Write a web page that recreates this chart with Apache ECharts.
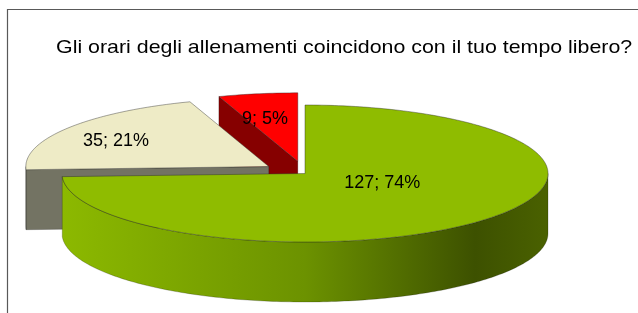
<!DOCTYPE html>
<html>
<head>
<meta charset="utf-8">
<script src="https://cdn.jsdelivr.net/npm/echarts@6/dist/echarts.min.js"></script>
<style>
  html, body { margin: 0; padding: 0; background: #fff; }
  #main { width: 638px; height: 313px; }
</style>
</head>
<body>
<div id="main"></div>
<script>
// dati del grafico
const categories = ['Sì', 'No', 'Non so'];
const values = [127, 35, 9];
const percentLabels = ['74%', '21%', '5%'];
const chartTitle = 'Gli orari degli allenamenti coincidono con il tuo tempo libero?';

// geometria della torta 3D (ellisse + spessore)
const cx = 305, cy = 173.5, rx = 243, ry = 68.5, depth = 60;
const explode = [0, 0.18, 0.18];
const labelFx = [0.44, 0.76, 0.82];
const labelFy = [0.2, 0.66, 0.63];
const topColors = ['#8fbc00', '#eeebc6', '#ff0000'];
const cutColors = ['#6f9500', '#737363', '#860000'];
const wallColors = [
  new echarts.graphic.LinearGradient(cx - rx, 0, cx + rx, 0, [
    { offset: 0, color: '#8cb900' },
    { offset: 0.5, color: '#6c9200' },
    { offset: 0.85, color: '#3d5100' },
    { offset: 1, color: '#4a6100' }
  ], true),
  '#6b6b59',
  '#7a0000'
];
const zOrder = [30, 20, 10];

const total = values.reduce((a, b) => a + b, 0);
const starts = [];
let acc = 0;
values.forEach(v => { starts.push(acc / total * 360); acc += v; });

const rad = d => d * Math.PI / 180;

function pt(a, ox, oy, dz) {
  return [cx + ox + rx * Math.sin(rad(a)), cy + oy - ry * Math.cos(rad(a)) + dz];
}

function arc(a0, a1, ox, oy, dz) {
  const pts = [];
  const n = Math.max(2, Math.ceil(Math.abs(a1 - a0)));
  for (let i = 0; i <= n; i++) pts.push(pt(a0 + (a1 - a0) * i / n, ox, oy, dz));
  return pts;
}

function renderItem(params, api) {
  const i = params.dataIndex;
  const v = api.value(0);
  const a0 = starts[i];
  const a1 = a0 + v / total * 360;
  const mid = (a0 + a1) / 2;
  const ox = rx * explode[i] * Math.sin(rad(mid));
  const oy = -ry * explode[i] * Math.cos(rad(mid));
  const c = [cx + ox, cy + oy];
  const z = zOrder[i];
  const children = [];

  // facce di taglio visibili
  [[a0, Math.sin(rad(a0)) < -0.01], [a1, Math.sin(rad(a1)) > 0.01]].forEach(([a, vis]) => {
    if (!vis) return;
    const p = pt(a, ox, oy, 0);
    children.push({
      type: 'polygon', z2: z,
      shape: { points: [c, p, [p[0], p[1] + depth], [c[0], c[1] + depth]] },
      style: { fill: cutColors[i], stroke: 'rgba(0,0,0,0.35)', lineWidth: 0.6 }
    });
  });

  // parete esterna (solo la parte frontale)
  const w0 = Math.max(a0, 90), w1 = Math.min(a1, 270);
  if (w1 > w0) {
    const topArc = arc(w0, w1, ox, oy, 0);
    const botArc = arc(w1, w0, ox, oy, depth);
    children.push({
      type: 'polygon', z2: z + 1,
      shape: { points: topArc.concat(botArc) },
      style: { fill: wallColors[i], stroke: 'rgba(0,0,0,0.35)', lineWidth: 0.6 }
    });
  }

  // faccia superiore
  children.push({
    type: 'polygon', z2: z + 2,
    shape: { points: [c].concat(arc(a0, a1, ox, oy, 0)) },
    style: { fill: topColors[i], stroke: 'rgba(40,40,40,0.6)', lineWidth: 0.7 }
  });

  // etichetta
  children.push({
    type: 'text', z2: 50,
    x: c[0] + rx * labelFx[i] * Math.sin(rad(mid)),
    y: c[1] - ry * labelFy[i] * Math.cos(rad(mid)),
    style: {
      text: v + '; ' + percentLabels[i],
      fill: '#000',
      font: '18px "Liberation Sans", Arial, sans-serif',
      align: 'center',
      verticalAlign: 'middle'
    }
  });

  return { type: 'group', children };
}

const myChart = echarts.init(document.getElementById('main'));
myChart.setOption({
  animation: false,
  graphic: [{
    type: 'rect',
    shape: { x: 7.5, y: 9.5, width: 700, height: 400 },
    style: { fill: 'none', stroke: '#595959', lineWidth: 1.2 },
    silent: true
  }, {
    // titolo: in Excel è più largo, quindi lo allargo un po'
    type: 'text',
    x: 56,
    y: 47.6,
    scaleX: 1.125,
    style: {
      text: chartTitle,
      fill: '#000',
      font: '19px "Liberation Sans", Arial, sans-serif',
      align: 'left',
      verticalAlign: 'middle'
    },
    silent: true
  }],
  series: [{
    type: 'custom',
    coordinateSystem: 'none',
    renderItem: renderItem,
    data: values.map((v, i) => ({ name: categories[i], value: [v] }))
  }]
});
</script>
</body>
</html>
